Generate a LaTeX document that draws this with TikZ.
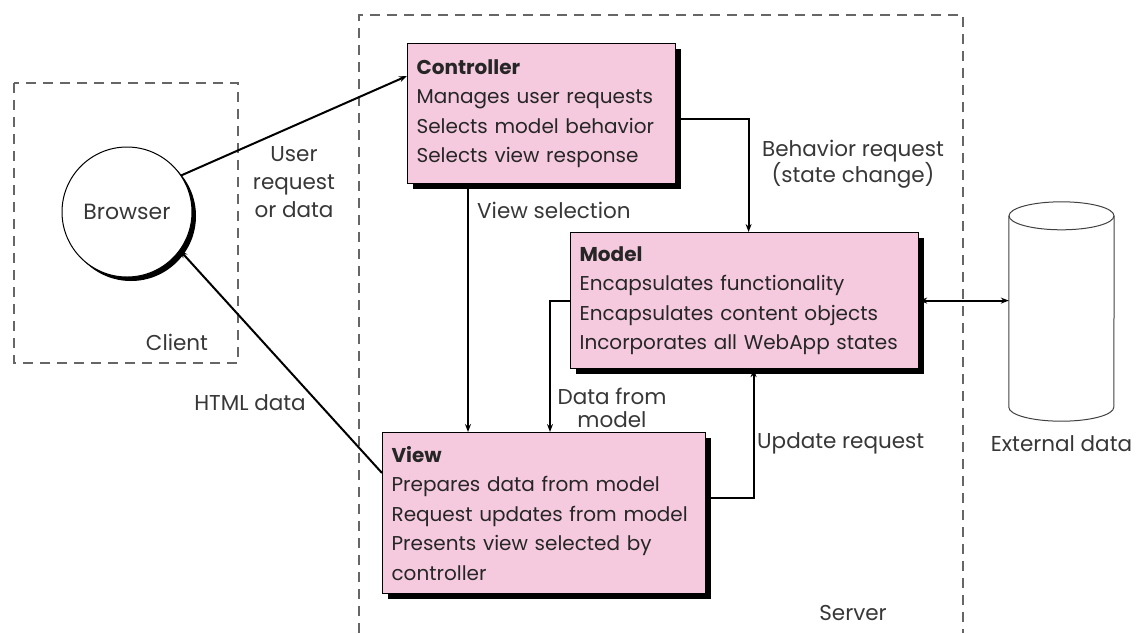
\documentclass[tikz,border=0pt]{standalone}
\usepackage{fontspec}
\setmainfont{Poppins}
\usetikzlibrary{positioning,shadows,arrows.meta}
\definecolor{boxpink}{RGB}{246,202,222}
\definecolor{inkgray}{RGB}{55,55,55}
\tikzset{
  mvcbox/.style={draw=black, line width=1.2pt, fill=boxpink, anchor=north west,
    align=left, inner xsep=9pt, inner ysep=6pt, text=black!85,
    font=\fontsize{20}{29.5}\selectfont,
    drop shadow={shadow xshift=5pt, shadow yshift=-5pt, opacity=1, fill=black}},
  zone/.style={draw=black!60, dash pattern=on 10pt off 7pt, line width=1.2pt},
  flow/.style={line width=2pt, -{Stealth[length=8pt,width=6pt]}},
  both/.style={line width=2pt, {Stealth[length=8pt,width=6pt]}-{Stealth[length=8pt,width=6pt]}},
  lbl/.style={text=inkgray, font=\fontsize{21.5}{26}\selectfont, align=center, inner sep=1pt}
}
\begin{document}
\begin{tikzpicture}[x=1pt,y=-1pt]
                \useasboundingbox (0,0) rectangle (1143,633);
                % client and server zones
                \draw[zone] (14,83) rectangle (238,363);
                \draw[zone] (359,633)--(359,15)--(963,15)--(963,633);
                \node[lbl] (client) at (177,342) {Client};
                \node[lbl] (server) at (853,613) {Server};
                % browser
                \node[circle, draw=black, line width=1pt, fill=white, minimum size=130pt,
                  font=\fontsize{22}{26}\selectfont, text=inkgray,
                  drop shadow={shadow xshift=4pt, shadow yshift=-4pt, opacity=1, fill=black}]
                  (browser) at (127,212) {Browser};
                % the three parts
                \node[mvcbox, text width=250pt, minimum height=140pt] (ctrl) at (407,43)
                  {\textbf{Controller}\\Manages user requests\\Selects model behavior\\Selects view response};
                \node[mvcbox, text width=330pt, minimum height=136pt] (model) at (570,232)
                  {\textbf{Model}\\Encapsulates functionality\\Encapsulates content objects\\Incorporates all WebApp states};
                \node[mvcbox, text width=305pt, minimum height=161pt] (view) at (382,432)
                  {\textbf{View}\\Prepares data from model\\Request updates from model\\Presents view selected by\\controller};
                % external data store
                \node[minimum width=105pt, minimum height=219pt, inner sep=0pt] (ext) at (1061.5,311.5) {};
                \draw[line width=1pt, draw=black!75] ([yshift=-14pt]ext.north) ellipse [x radius=52.5pt, y radius=14pt];
                \draw[line width=1pt, draw=black!75] ([yshift=-14pt]ext.north west)--([yshift=14pt]ext.south west)
                  arc[start angle=180, end angle=360, x radius=52.5pt, y radius=14pt]--([yshift=-14pt]ext.north east);
                \node[lbl, below=13pt of ext] (extlbl) {External data};
                % connectors
                \draw[flow] (browser.34)--([yshift=-33pt]ctrl.north west);
                \draw[flow] ([yshift=-41pt]view.north west)--(browser.-36);
                \coordinate (vsel) at ([xshift=61pt]ctrl.south west);
                \draw[flow] (vsel)--(vsel |- view.north);
                \draw[flow] ([yshift=-5pt]ctrl.east)-|([xshift=4pt]model.north);
                \draw[flow] (model.west)-|([xshift=168pt]view.north west);
                \draw[flow] ([yshift=15pt]view.east)-|([xshift=9pt]model.south);
                \draw[both] (model.east)--(model.east -| ext.west);
                % labels on connectors
                \node[lbl, font=\fontsize{21.5}{28}\selectfont] (userreq) at (294,182) {User\\request\\or data};
                \node[lbl] (html) at (250,403) {HTML data};
                \node[lbl, anchor=west] (viewsel) at (476,210) {View selection};
                \node[lbl] (behav) at (853,164) {Behavior request\\(state change)};
                \node[lbl, font=\fontsize{21.5}{23}\selectfont] (datafrom) at (612,408) {Data from\\model};
                \node[lbl, anchor=west] (update) at (756,443) {Update request};
            \end{tikzpicture}
\end{document}
